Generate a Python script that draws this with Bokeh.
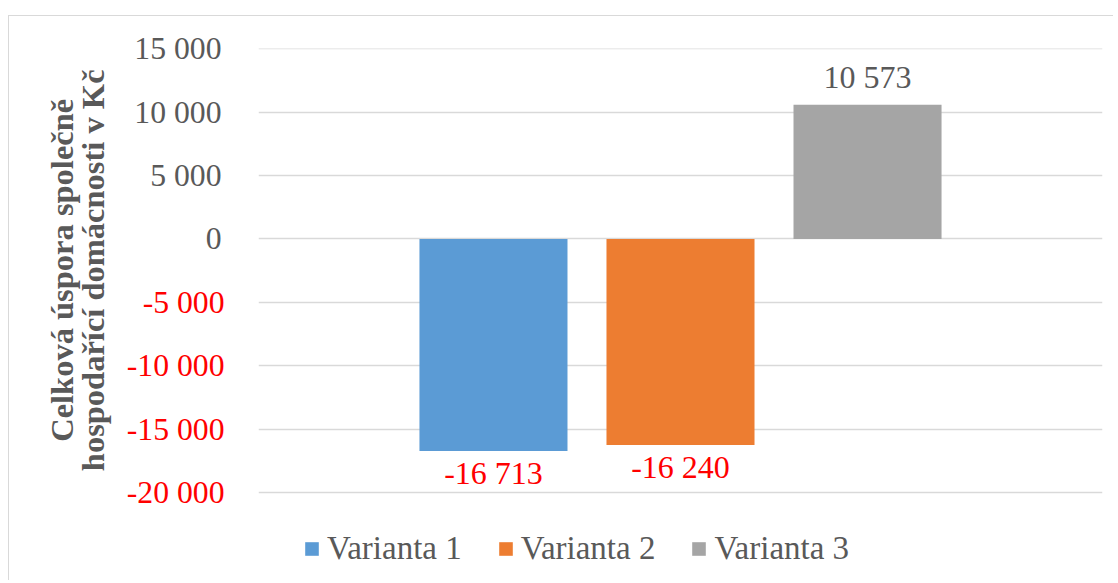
from bokeh.plotting import figure
from bokeh.models import (FactorRange, Range1d, ColumnDataSource, LinearAxis, FixedTicker,
                          Legend, LegendItem)
from bokeh.transform import dodge
from bokeh.core.properties import value
from bokeh.embed import file_html
from bokeh.resources import INLINE

# ---- data ----
categories = ["Celkem"]
series_names = ["Varianta 1", "Varianta 2", "Varianta 3"]
series_values = [-16713, -16240, 10573]
series_colors = ["#5B9BD5", "#ED7D31", "#A5A5A5"]
pos_ticks = [0, 5000, 10000, 15000]
pos_tick_labels = ["0", "5 000", "10 000", "15 000"]
neg_ticks = [-20000, -15000, -10000, -5000]
neg_tick_labels = ["-20 000", "-15 000", "-10 000", "-5 000"]
y_title_lines = ["Celková úspora společně", "hospodařící domácnosti v Kč"]

FONT = "Liberation Serif"
GREY_TXT = "#595959"
RED_TXT = "#FF0000"
TICK_FS = "31.7px"

# the frame runs down to the bottom of the canvas so that the legend (drawn
# inside the frame) is not clipped; grid lines are only drawn at the ticks.
p = figure(width=1105, height=565,
           x_range=FactorRange(factors=categories, range_padding=0),
           y_range=Range1d(-27006, 15010),
           output_backend="svg", toolbar_location=None,
           min_border_left=249, min_border_right=12,
           min_border_top=32, min_border_bottom=0,
           y_axis_location=None)
p.title.visible = False
p.outline_line_color = None
p.xaxis.visible = False
p.xgrid.visible = False
p.styles = {"border-top": "1px solid #d9d9d9", "border-left": "1px solid #d9d9d9",
            "margin-top": "15px", "margin-left": "8px"}

# grid
p.ygrid.ticker = FixedTicker(ticks=neg_ticks + pos_ticks)
p.ygrid.grid_line_color = "#d9d9d9"
p.ygrid.grid_line_width = 1.3

def style_axis(ax, color, standoff):
    ax.axis_line_color = None
    ax.major_tick_line_color = None
    ax.minor_tick_line_color = None
    ax.major_tick_out = 0
    ax.major_tick_in = 0
    ax.major_label_standoff = standoff
    ax.major_label_text_font = FONT
    ax.major_label_text_font_size = TICK_FS
    ax.major_label_text_color = color

# inner axis: negative ticks in red
ax_neg = LinearAxis(ticker=FixedTicker(ticks=neg_ticks),
                    major_label_overrides=dict(zip(neg_ticks, neg_tick_labels)))
style_axis(ax_neg, RED_TXT, 34)
p.add_layout(ax_neg, "left")

# outer axis: non-negative ticks in grey, pulled back onto the same label column
ax_pos = LinearAxis(ticker=FixedTicker(ticks=pos_ticks),
                    major_label_overrides=dict(zip(pos_ticks, pos_tick_labels)))
style_axis(ax_pos, GREY_TXT, -98)
# leading no-break spaces lift the centred title onto the value range (-20 000..15 000)
pad = "\u00a0" * 11
ax_pos.axis_label = "\n".join(pad + line for line in y_title_lines)
ax_pos.axis_label_text_font = FONT
ax_pos.axis_label_text_font_style = "bold"
ax_pos.axis_label_text_font_size = "32.5px"
ax_pos.axis_label_text_color = GREY_TXT
ax_pos.axis_label_text_line_height = 0.8775
ax_pos.axis_label_standoff = 20
p.add_layout(ax_pos, "left")

# bars
bar_width = 0.1754
step = 0.2216
offsets = [-step, 0.0, step]
items = []
for name, val, col, off in zip(series_names, series_values, series_colors, offsets):
    src = ColumnDataSource(dict(x=categories, top=[val],
                                label=[f"{val:,}".replace(",", " ")]))
    r = p.vbar(x=dodge("x", off, range=p.x_range), top="top", bottom=0,
               width=bar_width, source=src, fill_color=col, line_color=None)
    items.append(LegendItem(label=name, renderers=[r]))
    p.text(x=dodge("x", off, range=p.x_range), y="top", text="label", source=src,
           text_align="center", text_baseline="alphabetic",
           y_offset=22.5 if val < 0 else -28,
           text_font=value(FONT), text_font_size="32px",
           text_color=RED_TXT if val < 0 else GREY_TXT)

legend = Legend(items=items, orientation="horizontal", location=(45, 14),
                border_line_color=None, background_fill_alpha=0,
                padding=0, margin=0, spacing=35, label_standoff=7,
                glyph_width=17, glyph_height=17,
                label_text_font=FONT, label_text_font_size="33px",
                label_text_color=GREY_TXT)
p.add_layout(legend)

open("out.html", "w").write(file_html(p, INLINE))
